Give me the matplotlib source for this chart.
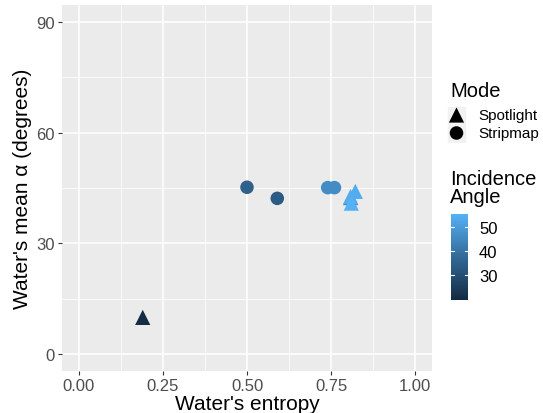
import matplotlib
matplotlib.use("Agg")
import matplotlib.pyplot as plt
import numpy as np
from matplotlib.colors import LinearSegmentedColormap, Normalize
from matplotlib.patches import Rectangle

plt.rcParams['font.family'] = ['Liberation Sans', 'DejaVu Sans']

# data
entropy = [0.19, 0.50, 0.59, 0.74, 0.76, 0.808, 0.808, 0.822, 0.81]
mean_alpha = [10.0, 45.2, 42.2, 45.1, 45.1, 42.4, 42.7, 44.1, 40.9]
mode = ["Spotlight", "Stripmap", "Stripmap", "Stripmap", "Stripmap",
        "Spotlight", "Spotlight", "Spotlight", "Spotlight"]
incidence = [20, 35, 33, 46, 46, 44, 54, 54, 55]

mode_names = ["Spotlight", "Stripmap"]
mode_markers = {"Spotlight": "^", "Stripmap": "o"}
mode_sizes = {"Spotlight": 120, "Stripmap": 95}

x_ticks = [0.0, 0.25, 0.5, 0.75, 1.0]
x_labels = ["0.00", "0.25", "0.50", "0.75", "1.00"]
y_ticks = [0, 30, 60, 90]
cbar_ticks = [30, 40, 50]

# ggplot-like continuous blue scale
cmap = LinearSegmentedColormap.from_list(
    "gg", ["#132B43", "#336A98", "#56B1F7"])
norm = Normalize(vmin=19.7, vmax=55.3)

W, H = 543, 414
fig = plt.figure(figsize=(W / 100, H / 100), dpi=100)
ax = fig.add_axes([62 / W, 42 / H, 370 / W, 366 / H])
ax.set_facecolor("#EBEBEB")

ax.set_xlim(-0.05, 1.05)
ax.set_ylim(-4.5, 94.5)
ax.set_xticks(x_ticks)
ax.set_xticklabels(x_labels)
ax.set_yticks(y_ticks)
ax.set_xticks([0.125, 0.375, 0.625, 0.875], minor=True)
ax.set_yticks([15, 45, 75], minor=True)
ax.grid(which="major", color="white", linewidth=1.1)
ax.grid(which="minor", color="white", linewidth=0.55)
ax.set_axisbelow(True)
for s in ax.spines.values():
    s.set_visible(False)
ax.tick_params(which="major", length=3, width=0.8, color="#333333",
               labelsize=12, labelcolor="#4D4D4D", pad=2)
ax.tick_params(which="minor", length=0)

for i in range(len(entropy)):
    m = mode[i]
    ax.scatter(entropy[i], mean_alpha[i], marker=mode_markers[m],
               s=mode_sizes[m], color=cmap(norm(incidence[i])),
               edgecolors="none", zorder=3)

ax.set_xlabel("Water's entropy", fontsize=15, labelpad=1)
ax.set_ylabel("Water's mean α (degrees)", fontsize=15, labelpad=3)

# legend drawn in pixel coordinates
lax = fig.add_axes([0, 0, 1, 1])
lax.set_xlim(0, W)
lax.set_ylim(H, 0)
lax.axis("off")

lax.text(450, 97, "Mode", fontsize=14.5, va="baseline", ha="left")
for j, name in enumerate(mode_names):
    yc = 116 + j * 18
    lax.add_patch(Rectangle((448, yc - 8.5), 17, 17, color="#F2F2F2"))
    lax.scatter(456.5, yc, marker=mode_markers[name],
                s=mode_sizes[name], color="black", edgecolors="none")
    lax.text(478, yc, name, fontsize=11, va="center", ha="left")

lax.text(450, 185, "Incidence", fontsize=14.5, va="baseline", ha="left")
lax.text(450, 203, "Angle", fontsize=14.5, va="baseline", ha="left")

cax = fig.add_axes([451 / W, (H - 300.7) / H, 17 / W, 85.7 / H])
grad = np.linspace(norm.vmin, norm.vmax, 256).reshape(-1, 1)
cax.imshow(grad, aspect="auto", origin="lower", cmap=cmap, norm=norm,
           extent=[0, 1, norm.vmin, norm.vmax])
cax.set_xlim(0, 1)
cax.set_ylim(norm.vmin, norm.vmax)
cax.set_xticks([])
cax.yaxis.tick_right()
cax.set_yticks(cbar_ticks)
cax.tick_params(axis="y", length=0, labelsize=12, pad=8)
for t in cbar_ticks:
    cax.plot([0, 0.2], [t, t], color="white", lw=0.8)
    cax.plot([0.8, 1], [t, t], color="white", lw=0.8)
for s in cax.spines.values():
    s.set_visible(False)

fig.savefig("out.png", dpi=100)
